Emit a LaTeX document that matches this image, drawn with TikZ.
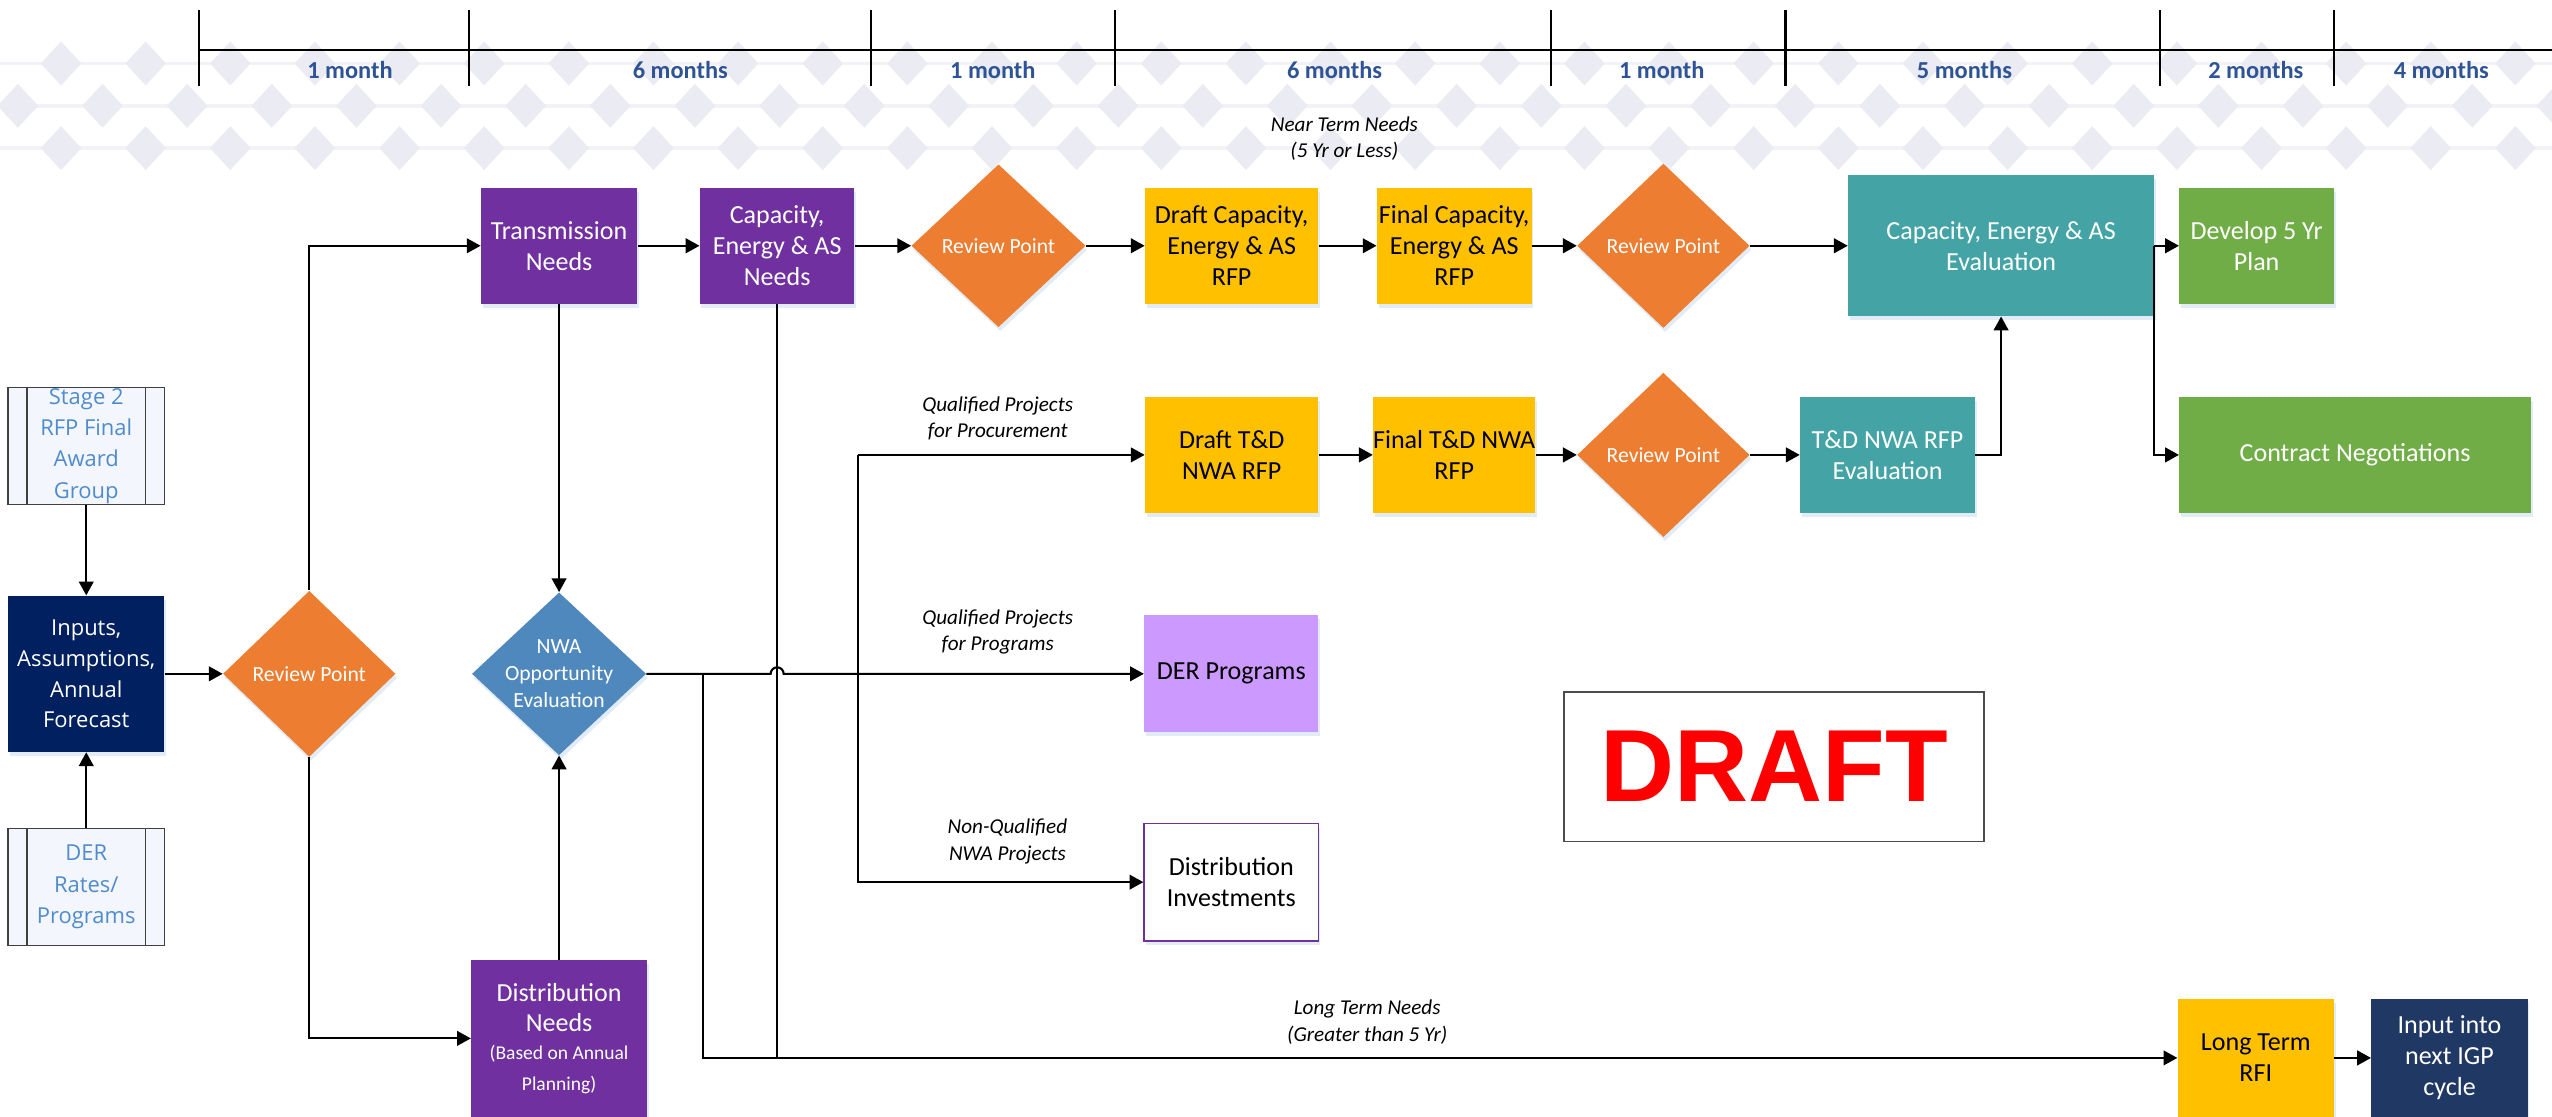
\documentclass[tikz,border=0pt]{standalone}
\usepackage{fontspec}
\setmainfont{Carlito}
\newfontfamily\segoe{Open Sans}
\newfontfamily\arialf{Liberation Sans}
\usetikzlibrary{arrows.meta,shapes.geometric,shadows,calc}
\definecolor{navy}{RGB}{0,32,96}
\definecolor{navyb}{RGB}{32,56,100}
\definecolor{purp}{RGB}{112,48,160}
\definecolor{orng}{RGB}{237,125,49}
\definecolor{yell}{RGB}{255,192,0}
\definecolor{teal}{RGB}{68,164,165}
\definecolor{grn}{RGB}{112,173,71}
\definecolor{bluedia}{RGB}{79,136,188}
\definecolor{lilac}{RGB}{204,153,255}
\definecolor{ltblue}{RGB}{80,140,205}
\definecolor{tlblue}{RGB}{47,84,150}
\definecolor{bgc}{RGB}{235,235,243}
\definecolor{bandc}{RGB}{242,242,247}
\definecolor{shc}{RGB}{190,212,236}
\definecolor{ppfill}{RGB}{243,246,252}
\tikzset{
  shad/.style={drop shadow={shadow xshift=1pt,shadow yshift=-2.5pt,fill=shc,opacity=0.45}},
  box/.style={rectangle,inner sep=0pt,align=center,font=\fontsize{16}{19}\selectfont,shad},
  ppbox/.style={rectangle,inner sep=0pt,align=center,draw=black!75,line width=0.9pt,fill=ppfill,
     text=ltblue,font=\segoe\fontsize{13.5}{19.3}\selectfont,minimum width=96pt,minimum height=72pt},
  dia/.style={diamond,inner sep=0pt,shad},
  diatext/.style={text=white,align=center,font=\fontsize{13.3}{16.5}\selectfont},
  lbl/.style={align=center,font=\itshape\fontsize{13}{16}\selectfont,inner sep=0pt},
  tl/.style={font=\bfseries\fontsize{15}{18}\selectfont,text=tlblue,inner sep=0pt},
  conn/.style={line width=1.3pt,-{Triangle[length=8.5pt,width=9pt]}},
  plain/.style={line width=1.3pt},
}
\begin{document}
\begin{tikzpicture}[x=1pt,y=-1pt]
\useasboundingbox (0,0) rectangle (1568,685.7);
% background pattern
\foreach \yy in {39,65,91} {
  \fill[bandc] (0,\yy-1.2) rectangle (1568,\yy+1.2);
}
\foreach \yy/\off in {39/37.5, 65/11, 91/37.5} {
  \foreach \i in {0,...,30} {
    \fill[bgc] ({\off+52*\i-12.5},\yy) -- ({\off+52*\i},\yy-13.5) -- ({\off+52*\i+12.5},\yy) -- ({\off+52*\i},\yy+13.5) -- cycle;
  }
}
% timeline
\draw[line width=1.4pt] (122,30.5) -- (1568,30.5);
\foreach \xx in {122,288,535,685,953,1097,1327,1434} {
  \draw[line width=1.3pt] (\xx,6) -- (\xx,53);
}
\node[tl] (t1) at (215,43) {1 month};
\node[tl] (t2) at (418,43) {6 months};
\node[tl] (t3) at (610,43) {1 month};
\node[tl] (t4) at (820,43) {6 months};
\node[tl] (t5) at (1021,43) {1 month};
\node[tl] (t6) at (1207,43) {5 months};
\node[tl] (t7) at (1386,43) {2 months};
\node[tl] (t8) at (1500,43) {4 months};
\node[lbl] (near) at (826,85) {Near Term Needs\\(5 Yr or Less)};

% left column
\node[ppbox] (stage2) at (53,274) {Stage 2\\RFP Final\\Award\\Group};
\draw[black!75,line width=0.9pt] ([xshift=12pt]stage2.north west) -- ([xshift=12pt]stage2.south west);
\draw[black!75,line width=0.9pt] ([xshift=-12pt]stage2.north east) -- ([xshift=-12pt]stage2.south east);
\node[ppbox] (der) at (53,545) {DER\\Rates/\\Programs};
\draw[black!75,line width=0.9pt] ([xshift=12pt]der.north west) -- ([xshift=12pt]der.south west);
\draw[black!75,line width=0.9pt] ([xshift=-12pt]der.north east) -- ([xshift=-12pt]der.south east);
\node[box,fill=navy,text=white,minimum width=96pt,minimum height=96pt,font=\segoe\fontsize{13.5}{19}\selectfont] (inputs) at (53,414) {Inputs,\\Assumptions,\\Annual\\Forecast};

% diamonds
\node[dia,fill=orng,minimum width=106pt,minimum height=102pt,label={[diatext]center:Review Point}] (rp1) at (190,414) {};
\node[dia,fill=bluedia,minimum width=107pt,minimum height=100pt,label={[diatext]center:NWA\\Opportunity\\Evaluation}] (nwa) at (343.5,414) {};
\node[dia,fill=orng,minimum width=107pt,minimum height=100pt,label={[diatext]center:Review Point}] (rp2) at (613.5,151) {};
\node[dia,fill=orng,minimum width=106pt,minimum height=101pt,label={[diatext]center:Review Point}] (rp3) at (1022,151) {};
\node[dia,fill=orng,minimum width=106pt,minimum height=101pt,label={[diatext]center:Review Point}] (rp4) at (1022,279.5) {};

% purple boxes
\node[box,fill=purp,text=white,minimum width=96pt,minimum height=71.5pt] (trans) at (343.5,151) {Transmission\\Needs};
\node[box,fill=purp,text=white,minimum width=95pt,minimum height=71.5pt] (capneeds) at (477.5,151) {Capacity,\\Energy \& AS\\Needs};
\node[box,fill=purp,text=white,minimum width=108pt,minimum height=96pt] (distneeds) at (343.5,638) {Distribution\\Needs\\[-2pt]{\fontsize{12}{17}\selectfont(Based on Annual}\\{\fontsize{12}{17}\selectfont Planning)}};

% yellow boxes
\node[box,fill=yell,minimum width=106.5pt,minimum height=71pt] (draftcap) at (756.75,151) {Draft Capacity,\\Energy \& AS\\RFP};
\node[box,fill=yell,minimum width=95pt,minimum height=71pt] (finalcap) at (893.5,151) {Final Capacity,\\Energy \& AS\\RFP};
\node[box,fill=yell,minimum width=106.5pt,minimum height=71pt] (draftnwa) at (756.75,279.5) {Draft T\&D\\NWA RFP};
\node[box,fill=yell,minimum width=95pt,minimum height=71pt] (finalnwa) at (893.5,279.5) {Final T\&D NWA\\RFP};
\node[box,fill=yell,minimum width=96pt,minimum height=72pt] (ltrfi) at (1386,650) {Long Term\\RFI};

% teal / green
\node[box,fill=teal,text=white,minimum width=188pt,minimum height=86.5pt] (capeval) at (1229.5,151) {Capacity, Energy \& AS\\Evaluation};
\node[box,fill=teal,text=white,minimum width=107.5pt,minimum height=71pt] (tdeval) at (1159.75,279.5) {T\&D NWA RFP\\Evaluation};
\node[box,fill=grn,text=white,minimum width=95pt,minimum height=71pt] (dev5) at (1386.5,151) {Develop 5 Yr\\Plan};
\node[box,fill=grn,text=white,minimum width=216pt,minimum height=71pt] (contract) at (1447,279.5) {Contract Negotiations};

% middle outputs
\node[box,fill=lilac,minimum width=107pt,minimum height=72pt] (derprog) at (756.5,414) {DER Programs};
\node[box,fill=white,draw=purp,line width=1pt,minimum width=107pt,minimum height=72pt] (distinv) at (756.5,542) {Distribution\\Investments};
\node[box,fill=navyb,text=white,minimum width=96pt,minimum height=72pt] (igp) at (1505,650) {Input into\\next IGP\\cycle};

% draft box
\node[rectangle,draw=black!70,line width=1pt,fill=white,minimum width=258pt,minimum height=92pt,inner sep=0pt,text=red,font=\arialf\bfseries\fontsize{63}{70}\selectfont] (draft) at (1090,471) {DRAFT};

% labels
\node[lbl] (lqp) at (613,257) {Qualified Projects\\for Procurement};
\node[lbl] (lqg) at (613,388) {Qualified Projects\\for Programs};
\node[lbl] (lnq) at (619,517) {Non-Qualified\\NWA Projects};
\node[lbl] (llt) at (840,628) {Long Term Needs\\(Greater than 5 Yr)};

% junction coordinates
\coordinate (j1) at (432,414);
\coordinate (j1b) at (432,650);
\coordinate (j2t) at (527,279.5);
\coordinate (j2b) at (527,542);

% connectors
\draw[conn] (stage2) -- (inputs);
\draw[conn] (der) -- (inputs);
\draw[conn] (inputs) -- (rp1);
\draw[conn] (rp1.north) |- (trans.west);
\draw[conn] (rp1.south) |- (distneeds.west);
\draw[conn] (trans) -- (capneeds);
\draw[conn] (capneeds) -- (rp2);
\draw[conn] (trans) -- (nwa);
\draw[conn] (distneeds) -- (nwa);
\draw[conn] (rp2) -- (draftcap);
\draw[conn] (draftcap) -- (finalcap);
\draw[conn] (finalcap) -- (rp3);
\draw[conn] (rp3) -- (capeval);
\draw[conn] (capeval.east) -- (dev5.west);
\draw[conn] (capeval.east) |- (contract.west);
\draw[conn] (draftnwa) -- (finalnwa);
\draw[conn] (finalnwa) -- (rp4);
\draw[conn] (rp4) -- (tdeval);
\draw[conn] (tdeval.east) -| (capeval.south);
\draw[conn] (nwa.east) -- (473.5,414) arc[start angle=180,end angle=0,radius=4pt] -- (derprog.west);
\draw[plain] (capneeds.south) -- (capneeds.south |- j1b);
\draw[conn] (j1) -- (j1b) -- (ltrfi.west);
\draw[conn] (j2t) -- (draftnwa.west);
\draw[conn] (j2t) -- (j2b) -- (distinv.west);
\draw[conn] (ltrfi) -- (igp);
\end{tikzpicture}
\end{document}
